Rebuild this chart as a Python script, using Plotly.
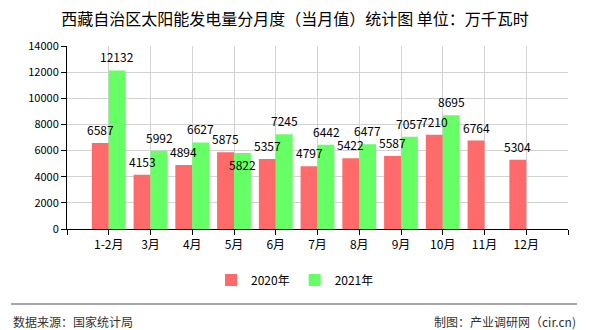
import plotly.graph_objects as go

# ---- data ----
categories = ["1-2月", "3月", "4月", "5月", "6月", "7月", "8月", "9月", "10月", "11月", "12月"]
values_2020 = [6587, 4153, 4894, 5875, 5357, 4797, 5422, 5587, 7210, 6764, 5304]
values_2021 = [12132, 5992, 6627, 5822, 7245, 6442, 6477, 7057, 8695, None, None]
series_names = ["2020年", "2021年"]
y_ticks = [0, 2000, 4000, 6000, 8000, 10000, 12000, 14000]

title_text = "西藏自治区太阳能发电量分月度（当月值）统计图 单位：万千瓦时"
source_text = "数据来源：国家统计局"
credit_text = "制图：产业调研网（cir.cn)"

W, H = 590, 330
L, R, T, B = 67, 568, 46, 229  # plot area in pixels

def px_x(p):
    return (p - L) / (R - L)

def px_y(p):
    return (B - p) / (B - T)

FONT = "Noto Sans CJK SC, Liberation Sans, sans-serif"
COLORS = ["#ff6a6a", "#66ff66"]

xs = list(range(len(categories)))

fig = go.Figure()
for name, vals, col in zip(series_names, [values_2020, values_2021], COLORS):
    fig.add_trace(go.Bar(
        x=xs, y=vals, name=name,
        marker=dict(color=col, line=dict(width=0)),
        hoverinfo="skip",
    ))

# value labels drawn on top of all bars
BAR_HALF = 8.5  # px offset from category centre to each bar's centre
annotations = []
for k, vals in enumerate([values_2020, values_2021]):
    shift = -BAR_HALF if k == 0 else BAR_HALF
    for i, v in enumerate(vals):
        if v is None:
            continue
        below = (k == 1 and v == 5822)
        annotations.append(dict(
            x=xs[i], y=v, xref="x", yref="y", text=str(v), showarrow=False,
            xshift=shift, yshift=-1 if below else 3,
            yanchor="top" if below else "bottom", xanchor="center",
            font=dict(size=12, color="#000", family=FONT),
        ))

annotations += [
    dict(text=source_text, xref="paper", yref="paper",
         x=px_x(11), y=px_y(321), xanchor="left", yanchor="middle",
         showarrow=False, font=dict(size=12, color="#333", family=FONT)),
    dict(text=credit_text, xref="paper", yref="paper",
         x=px_x(578), y=px_y(321), xanchor="right", yanchor="middle",
         showarrow=False, font=dict(size=12, color="#333", family=FONT)),
]

tickvals = list(range(-1, len(categories) + 1))
ticktext = [""] + categories + [""]

fig.update_layout(
    width=W, height=H,
    margin=dict(l=L, r=W - R, t=T, b=H - B, pad=0),
    paper_bgcolor="#fff", plot_bgcolor="#fff",
    barmode="group", bargap=0.19, bargroupgap=0,
    font=dict(family=FONT, size=12, color="#000"),
    title=dict(text=title_text, x=0.5, xref="container", xanchor="center",
               y=1 - 19 / H, yref="container", yanchor="middle",
               font=dict(size=16, color="#000", family=FONT)),
    showlegend=True,
    legend=dict(orientation="h", xref="container", yref="container",
                x=0.5, xanchor="center", y=1 - 280 / H, yanchor="middle",
                font=dict(size=12, color="#000", family=FONT),
                itemwidth=30, tracegroupgap=0, bgcolor="rgba(0,0,0,0)"),
    xaxis=dict(range=[-1, len(categories)], tickmode="array",
               tickvals=tickvals, ticktext=ticktext,
               showgrid=True, gridcolor="#d3d3d3", gridwidth=1,
               showline=True, linecolor="#000", linewidth=1,
               ticks="outside", ticklen=5, tickcolor="#000",
               tickfont=dict(size=12, color="#000", family=FONT),
               zeroline=False, fixedrange=True),
    yaxis=dict(range=[0, 14000], tickmode="array", tickvals=y_ticks,
               ticktext=[str(v) for v in y_ticks],
               showgrid=True, gridcolor="#d3d3d3", gridwidth=1,
               showline=True, linecolor="#000", linewidth=1,
               ticks="outside", ticklen=5, tickcolor="#000",
               tickfont=dict(size=11, color="#000", family=FONT),
               zeroline=False, fixedrange=True),
    shapes=[dict(type="line", xref="paper", yref="paper",
                 x0=px_x(11), x1=px_x(577), y0=px_y(304), y1=px_y(304),
                 line=dict(color="#888", width=1.5))],
    annotations=annotations,
)

fig.write_html("out.html", config={"displayModeBar": False})
